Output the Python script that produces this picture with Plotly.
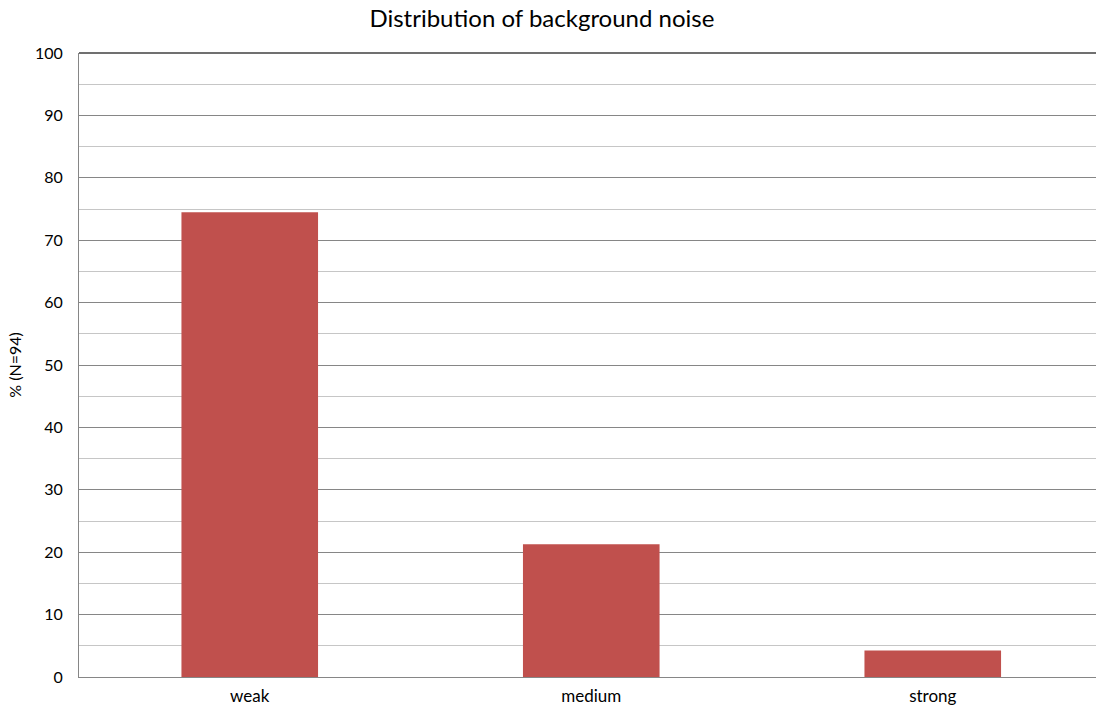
import plotly.graph_objects as go

# Background noise categories and their share of respondents (N=94)
categories = ["weak", "medium", "strong"]
counts = [70, 20, 4]
n_total = 94
percent = [c / n_total * 100 for c in counts]

y_ticks = list(range(0, 101, 10))

fig = go.Figure()
fig.add_trace(go.Bar(
    x=categories,
    y=percent,
    marker=dict(color="#C0504D", line=dict(width=0)),
    width=0.4,
    hoverinfo="x+y",
))

font_family = "Lato, Open Sans, sans-serif"

fig.update_layout(
    width=1097,
    height=714,
    margin=dict(l=79, r=1, t=53, b=37),
    paper_bgcolor="white",
    plot_bgcolor="white",
    showlegend=False,
    title=dict(
        text="Distribution of background noise",
        x=0.494, xanchor="center",
        y=0.974, yanchor="middle",
        font=dict(family=font_family, size=24, color="#000000"),
    ),
    xaxis=dict(
        range=[-0.5, 2.478],
        showgrid=False,
        showline=True,
        linecolor="#868686",
        linewidth=1,
        ticks="",
        ticklabelstandoff=4,
        tickfont=dict(family=font_family, size=17, color="#000000"),
    ),
    yaxis=dict(
        range=[0, 100],
        tickvals=y_ticks,
        showgrid=True,
        gridcolor="#868686",
        gridwidth=1,
        minor=dict(dtick=5, showgrid=True, gridcolor="#c6c6c6", gridwidth=1),
        showline=True,
        linecolor="#868686",
        linewidth=1,
        ticks="",
        ticklabelstandoff=12,
        zeroline=False,
        tickfont=dict(family=font_family, size=16, color="#000000"),
        title=dict(
            text="% (N=94)",
            standoff=9,
            font=dict(family=font_family, size=16, color="#000000"),
        ),
    ),
)

# Dark rule along the top of the plot area
fig.add_shape(type="line", xref="paper", yref="paper",
              x0=0, x1=1, y0=1, y1=1,
              line=dict(color="#404040", width=1.5))

fig.write_html("out.html")
